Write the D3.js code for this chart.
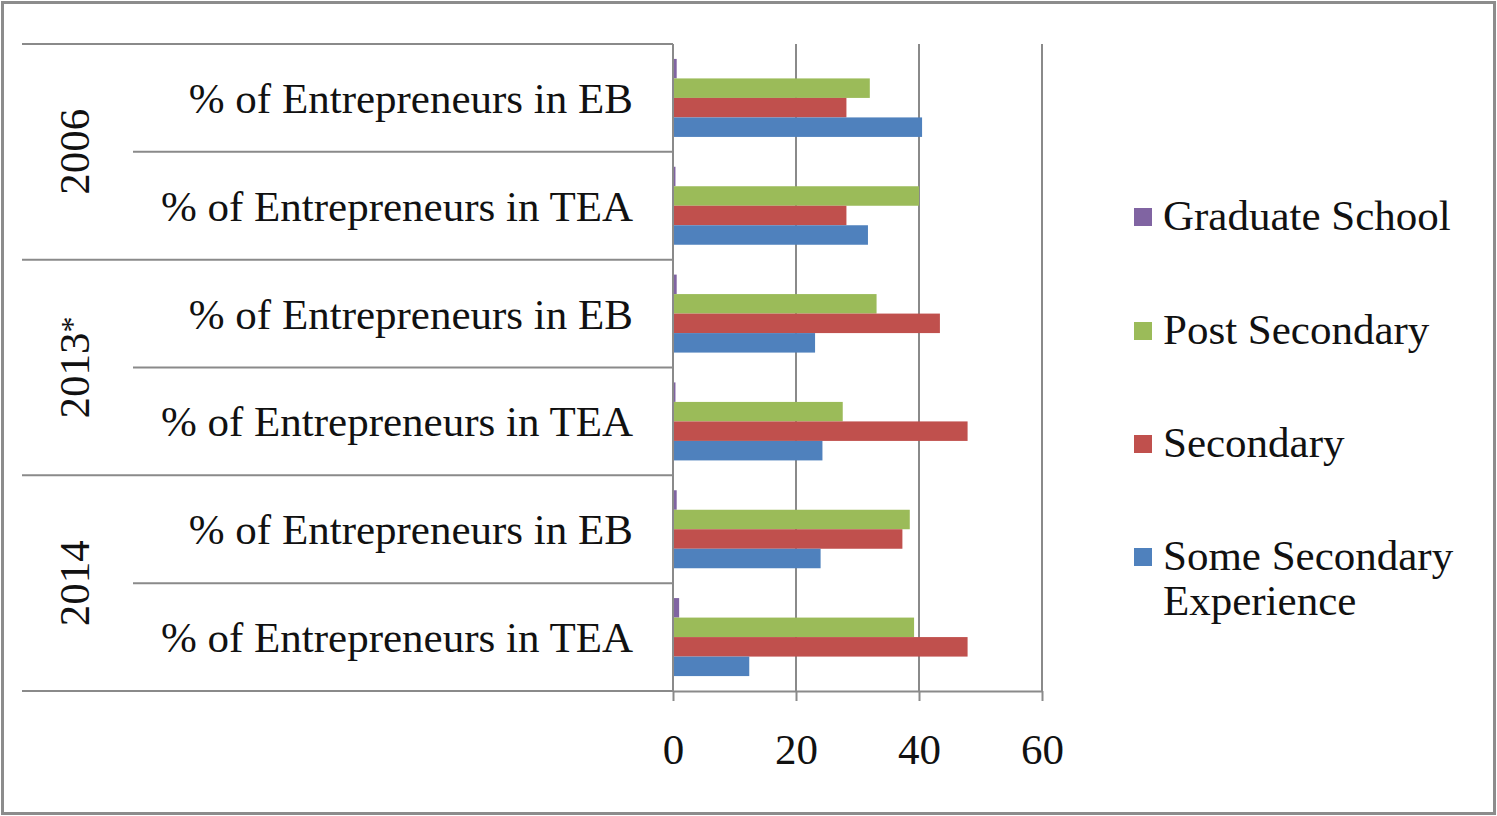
<!DOCTYPE html>
<html>
<head>
<meta charset="utf-8">
<script src="https://cdn.jsdelivr.net/npm/d3@7"></script>
<style>
  html, body { margin: 0; padding: 0; background: #fff; }
  svg { display: block; }
  text { font-family: "Liberation Serif", "Times New Roman", serif; fill: #111; }
</style>
</head>
<body>
<svg id="chart" width="1497" height="816"></svg>
<script>
// Years (outer level) and indicators (inner level) of the category axis
const years = ["2006", "2013*", "2014"];
const indicators = ["% of Entrepreneurs in EB", "% of Entrepreneurs in TEA"];

// Education levels, drawn top to bottom within each category
const seriesNames = ["Graduate School", "Post Secondary", "Secondary", "Some Secondary Experience"];
const seriesColors = ["#8064A2", "#9BBB59", "#C0504D", "#4F81BD"];

// Values per category, in order: 2006 EB, 2006 TEA, 2013 EB, 2013 TEA, 2014 EB, 2014 TEA
const graduateSchool = [0.6, 0.4, 0.6, 0.4, 0.6, 1.0];
const postSecondary = [32.0, 40.0, 33.1, 27.6, 38.5, 39.2];
const secondary = [28.2, 28.2, 43.4, 47.9, 37.3, 47.9];
const someSecondary = [40.5, 31.7, 23.1, 24.3, 24.0, 12.4];

const xTicks = [0, 20, 40, 60];

const seriesValues = [graduateSchool, postSecondary, secondary, someSecondary];
const categories = [];
years.forEach(yr => indicators.forEach(ind => categories.push({ year: yr, label: ind, key: yr + "|" + ind })));

const svg = d3.select("#chart");
const lineColor = "#8a8a8a";

// Outer frame
svg.append("rect")
  .attr("x", 2.5).attr("y", 2.5).attr("width", 1492).attr("height", 811)
  .attr("fill", "#fff").attr("stroke", "#8c8c8c").attr("stroke-width", 3);

const plot = { left: 673, right: 1042, top: 44, bottom: 691 };

const x = d3.scaleLinear().domain([0, 60]).range([plot.left, plot.right]);
const y0 = d3.scaleBand().domain(categories.map(c => c.key)).range([plot.top, plot.bottom]).padding(0);
const y1 = d3.scaleBand().domain(seriesNames).range([0, y0.bandwidth()]).paddingInner(0).paddingOuter(0.765);

// Vertical gridlines
svg.append("g").selectAll("line")
  .data(xTicks.filter(t => t > 0))
  .join("line")
  .attr("x1", d => x(d)).attr("x2", d => x(d))
  .attr("y1", plot.top).attr("y2", plot.bottom)
  .attr("stroke", lineColor).attr("stroke-width", 2);

// Bars
const barGroups = svg.append("g").selectAll("g")
  .data(categories)
  .join("g")
  .attr("transform", c => `translate(0,${y0(c.key)})`);

barGroups.selectAll("rect")
  .data((c, i) => seriesNames.map((s, k) => ({ series: s, value: seriesValues[k][i], color: seriesColors[k] })))
  .join("rect")
  .attr("x", x(0))
  .attr("y", d => y1(d.series))
  .attr("width", d => x(d.value) - x(0))
  .attr("height", y1.bandwidth())
  .attr("fill", d => d.color);

// Category axis line
svg.append("line")
  .attr("x1", plot.left).attr("x2", plot.left)
  .attr("y1", plot.top).attr("y2", plot.bottom)
  .attr("stroke", lineColor).attr("stroke-width", 2);

// Multi-level separators: full-width at year boundaries, short between indicators
const boundaries = d3.range(categories.length + 1).map(i => ({
  y: i < categories.length ? y0(categories[i].key) : plot.bottom,
  outer: i % indicators.length === 0
}));
svg.append("g").selectAll("line")
  .data(boundaries)
  .join("line")
  .attr("x1", d => d.outer ? 22 : 133)
  .attr("x2", plot.left)
  .attr("y1", d => d.y).attr("y2", d => d.y)
  .attr("stroke", lineColor).attr("stroke-width", 2);

// Indicator labels
svg.append("g").selectAll("text")
  .data(categories)
  .join("text")
  .attr("x", 633)
  .attr("y", c => y0(c.key) + y0.bandwidth() / 2 + 15)
  .attr("text-anchor", "end")
  .attr("font-size", 43)
  .text(c => c.label);

// Year labels, rotated; a trailing asterisk is set smaller and raised
const yearText = svg.append("g").selectAll("text")
  .data(years)
  .join("text")
  .attr("transform", (yr, i) => {
    const top = y0(categories[i * indicators.length].key);
    const mid = top + y0.bandwidth() * indicators.length / 2;
    return `translate(89,${mid}) rotate(-90)`;
  })
  .attr("text-anchor", "middle")
  .attr("font-size", 43);
yearText.append("tspan").text(d => d.replace("*", ""));
yearText.filter(d => d.endsWith("*"))
  .append("tspan")
  .attr("font-size", 32)
  .attr("dy", -6)
  .text("*");

// Value axis
const xAxis = d3.axisBottom(x).tickValues(xTicks).tickSize(10).tickSizeOuter(0).tickPadding(32);
const axisG = svg.append("g").attr("transform", `translate(0,${plot.bottom})`).call(xAxis);
axisG.select(".domain").attr("stroke", lineColor).attr("stroke-width", 2);
axisG.selectAll(".tick line").attr("stroke", lineColor).attr("stroke-width", 2);
axisG.selectAll(".tick text")
  .attr("font-size", 43)
  .attr("font-family", "Liberation Serif, serif")
  .attr("fill", "#111");

// Legend
const legendRows = [
  { name: seriesNames[0], lines: ["Graduate School"], y: 230, color: seriesColors[0] },
  { name: seriesNames[1], lines: ["Post Secondary"], y: 344, color: seriesColors[1] },
  { name: seriesNames[2], lines: ["Secondary"], y: 457, color: seriesColors[2] },
  { name: seriesNames[3], lines: ["Some Secondary", "Experience"], y: 570, color: seriesColors[3] }
];
const legend = svg.append("g");
const items = legend.selectAll("g").data(legendRows).join("g");
items.append("rect")
  .attr("x", 1134).attr("y", d => d.y - 22)
  .attr("width", 18).attr("height", 18)
  .attr("fill", d => d.color);
items.append("text")
  .attr("x", 1163).attr("y", d => d.y)
  .attr("font-size", 43)
  .selectAll("tspan")
  .data(d => d.lines)
  .join("tspan")
  .attr("x", 1163)
  .attr("dy", (l, i) => i === 0 ? 0 : 45)
  .text(l => l);
</script>
</body>
</html>
